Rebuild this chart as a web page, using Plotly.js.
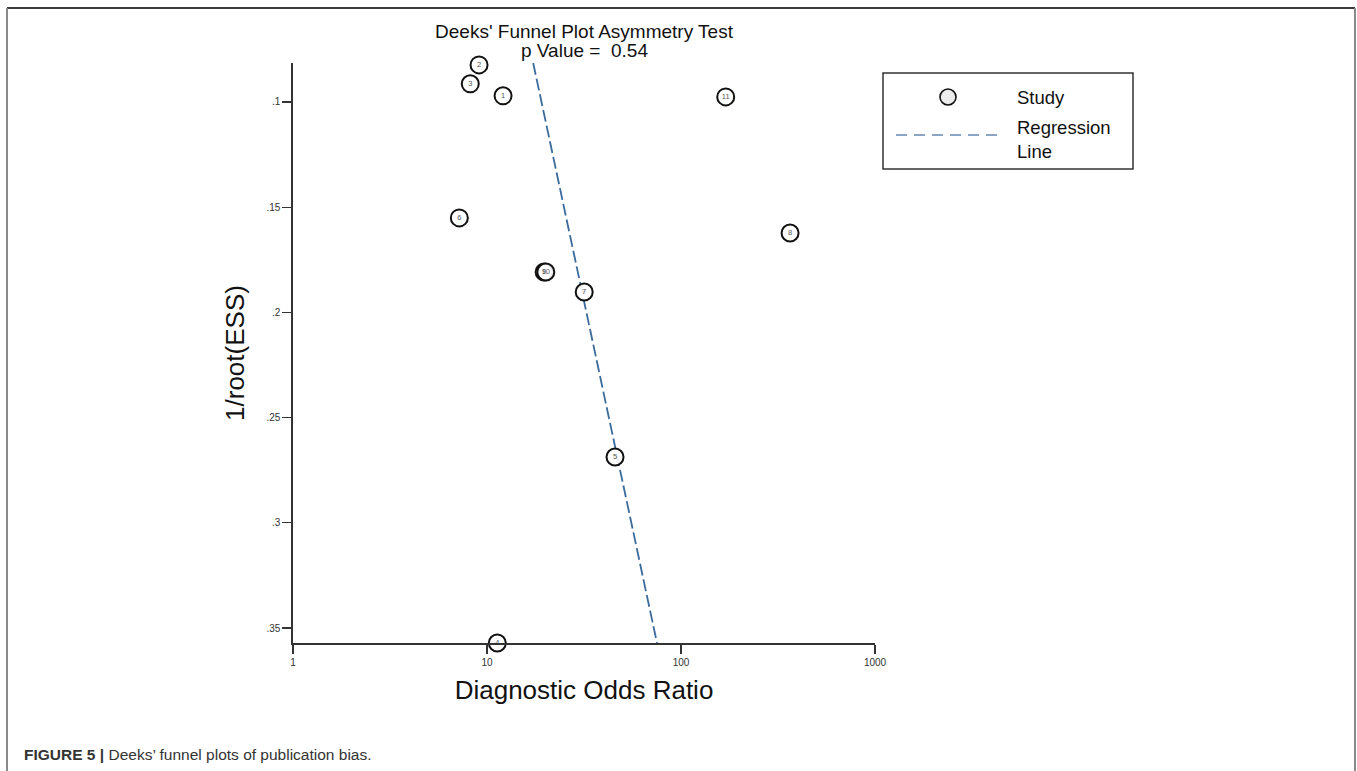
<!DOCTYPE html>
<html>
<head>
<meta charset="utf-8">
<script src="https://cdn.plot.ly/plotly-3.0.1.min.js"></script>
<style>
  html, body { margin: 0; padding: 0; background: #ffffff; }
  #chart { width: 1357px; height: 771px; }
</style>
</head>
<body>
<div id="chart"></div>
<script>
// ---- data ----
const studyLabels = ['1', '2', '3', '4', '5', '6', '7', '8', '9', '10', '11'];
const diagnosticOddsRatio = [12.1, 9.1, 8.2, 11.3, 45.7, 7.2, 31.7, 365, 19.7, 20.1, 170];
const invRootESS = [0.0971, 0.0824, 0.0914, 0.3571, 0.2687, 0.1551, 0.1903, 0.1623, 0.1808, 0.1808, 0.0976];

// regression line end points (x = DOR, y = 1/root(ESS))
const regressionDOR = [17.3, 75.2];
const regressionY = [0.0815, 0.3571];

const xTickVals = [1, 10, 100, 1000];
const xTickText = ['1', '10', '100', '1000'];
const yTickVals = [0.1, 0.15, 0.2, 0.25, 0.3, 0.35];
const yTickText = ['.1', '.15', '.2', '.25', '.3', '.35'];

const titleLine1 = "Deeks' Funnel Plot Asymmetry Test";
const titleLine2 = 'p Value =&nbsp; 0.54';
const xTitle = 'Diagnostic Odds Ratio';
const yTitle = '1/root(ESS)';
const legendStudy = 'Study';
const legendRegression = 'Regression<br>Line';
const caption = '<b>FIGURE 5 |</b> Deeks\u2019 funnel plots of publication bias.';

// ---- layout helpers (pixel -> paper) ----
const W = 1357, H = 771;
const M = { l: 293, r: 482, t: 63, b: 128 };
const PW = W - M.l - M.r, PH = H - M.t - M.b;
const px = x => (x - M.l) / PW;
const py = y => (H - M.b - y) / PH;

const FONT = 'Liberation Sans, Arial, Helvetica, sans-serif';

const traces = [
  {
    type: 'scatter',
    mode: 'lines',
    x: regressionDOR,
    y: regressionY,
    line: { color: '#3b6b9c', width: 1.8, dash: '12px,4px' },
    hoverinfo: 'skip',
    cliponaxis: false
  },
  {
    type: 'scatter',
    mode: 'markers+text',
    x: diagnosticOddsRatio,
    y: invRootESS,
    text: studyLabels,
    textposition: 'middle center',
    textfont: { family: FONT, size: 7.5, color: '#555' },
    marker: { symbol: 'circle', size: 17, color: 'rgba(255,255,255,0.9)', line: { color: '#111', width: 2 } },
    cliponaxis: false
  }
];

const shapes = [
  // figure frame
  { type: 'line', xref: 'paper', yref: 'paper', x0: px(7), x1: px(1355), y0: py(8), y1: py(8), line: { color: '#3a3a3a', width: 2 } },
  { type: 'line', xref: 'paper', yref: 'paper', x0: px(7), x1: px(7), y0: py(8), y1: py(780), line: { color: '#8a8a8a', width: 2 } },
  { type: 'line', xref: 'paper', yref: 'paper', x0: px(1355), x1: px(1355), y0: py(8), y1: py(780), line: { color: '#8a8a8a', width: 2 } },
  // legend box
  { type: 'rect', xref: 'paper', yref: 'paper', x0: px(883), x1: px(1133), y0: py(73), y1: py(169), line: { color: '#333', width: 1.5 }, fillcolor: 'rgba(0,0,0,0)' },
  // legend circle
  { type: 'circle', xref: 'paper', yref: 'paper', x0: px(940), x1: px(956), y0: py(89), y1: py(105), line: { color: '#111', width: 1.6 }, fillcolor: '#ececec' },
  // legend dashed line
  { type: 'line', xref: 'paper', yref: 'paper', x0: px(896), x1: px(998), y0: py(135), y1: py(135), line: { color: '#8aa6c4', width: 2, dash: '11px,7px' } }
];

const annotations = [
  { xref: 'paper', yref: 'paper', x: 0.5, y: py(50), text: titleLine2, showarrow: false, xanchor: 'center', yanchor: 'middle', font: { family: FONT, size: 19, color: '#111' } },
  { xref: 'paper', yref: 'paper', x: px(1015), y: py(98), text: legendStudy, showarrow: false, xanchor: 'left', yanchor: 'middle', font: { family: FONT, size: 18.5, color: '#111' } },
  { xref: 'paper', yref: 'paper', x: px(1015), y: py(139), text: legendRegression, showarrow: false, xanchor: 'left', yanchor: 'middle', align: 'left', font: { family: FONT, size: 18.5, color: '#111' } },
  { xref: 'paper', yref: 'paper', x: px(22), y: py(754), text: caption, showarrow: false, xanchor: 'left', yanchor: 'middle', align: 'left', font: { family: FONT, size: 15.5, color: '#333' } }
];

const layout = {
  width: W, height: H,
  margin: { l: M.l, r: M.r, t: M.t, b: M.b, pad: 0 },
  paper_bgcolor: '#ffffff',
  plot_bgcolor: '#ffffff',
  showlegend: false,
  title: {
    text: titleLine1,
    xref: 'paper', x: 0.5, xanchor: 'center',
    yref: 'container', y: 1 - 31 / H, yanchor: 'middle',
    font: { family: FONT, size: 19, color: '#111' }
  },
  xaxis: {
    type: 'log', range: [0, 3],
    tickvals: xTickVals, ticktext: xTickText,
    ticks: 'outside', ticklen: 9, tickwidth: 1.3, tickcolor: '#333',
    showline: true, linecolor: '#333', linewidth: 1.6,
    showgrid: false, zeroline: false,
    tickfont: { family: FONT, size: 10, color: '#333' },
    title: { text: xTitle, font: { family: FONT, size: 26, color: '#111' }, standoff: 14 },
    automargin: false, fixedrange: true
  },
  yaxis: {
    range: [0.3571, 0.0815],
    tickvals: yTickVals, ticktext: yTickText,
    ticks: 'outside', ticklen: 9, tickwidth: 1.3, tickcolor: '#333',
    showline: true, linecolor: '#333', linewidth: 1.6,
    showgrid: false, zeroline: false,
    tickfont: { family: FONT, size: 10, color: '#333' },
    title: { text: yTitle, font: { family: FONT, size: 26, color: '#111' }, standoff: 14 },
    automargin: false, fixedrange: true
  },
  shapes: shapes,
  annotations: annotations
};

Plotly.newPlot('chart', traces, layout, { displayModeBar: false, staticPlot: true });
</script>
</body>
</html>
